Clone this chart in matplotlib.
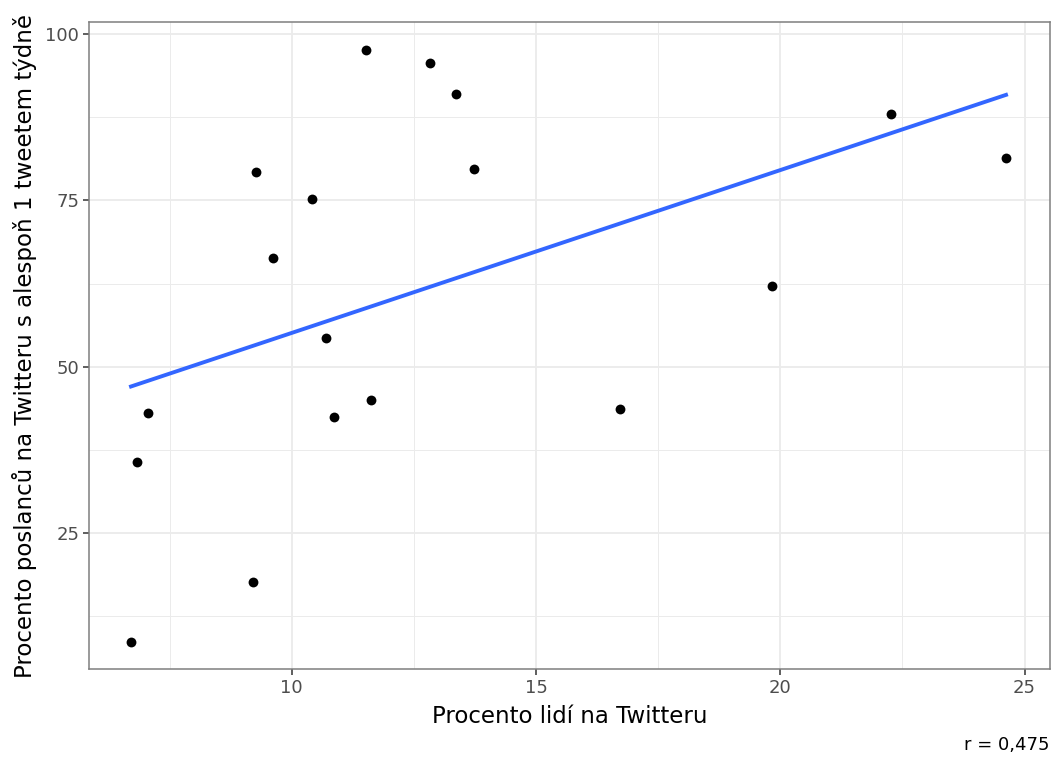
import numpy as np
import matplotlib
matplotlib.use("Agg")
import matplotlib.pyplot as plt
from matplotlib.ticker import MultipleLocator

# data
pct_twitter = [6.71, 6.83, 7.06, 9.20, 9.26, 9.61, 10.41, 10.70, 10.86,
               11.51, 11.62, 12.82, 13.37, 13.74, 16.71, 19.82, 22.27, 24.62]
pct_mps_weekly = [8.7, 35.7, 43.1, 17.6, 79.2, 66.4, 75.2, 54.4, 42.5,
                  97.6, 45.0, 95.6, 91.0, 79.7, 43.7, 62.2, 88.0, 81.3]
x_ticks = [10, 15, 20, 25]
y_ticks = [25, 50, 75, 100]
caption = "r = 0,475"

x = np.array(pct_twitter)
y = np.array(pct_mps_weekly)

plt.rcParams["font.family"] = "DejaVu Sans"

fig = plt.figure(figsize=(10.56, 7.58), dpi=100)
ax = fig.add_axes([89 / 1056, 1 - 669 / 758, (1050 - 89) / 1056, (669 - 22) / 758])

# linear fit like geom_smooth(method = "lm", se = FALSE)
slope, intercept = np.polyfit(x, y, 1)
xs = np.array([x.min(), x.max()])
ax.plot(xs, slope * xs + intercept, color="#3366FF", lw=2.8, zorder=2)
ax.scatter(x, y, s=50, color="black", zorder=3, linewidths=0)

ax.set_xlim(5.85, 25.52)
ax.set_ylim(4.6, 101.8)
ax.xaxis.set_major_locator(plt.FixedLocator(x_ticks))
ax.yaxis.set_major_locator(plt.FixedLocator(y_ticks))
ax.xaxis.set_minor_locator(MultipleLocator(2.5))
ax.yaxis.set_minor_locator(MultipleLocator(12.5))

ax.grid(which="major", color="#EBEBEB", lw=1.3)
ax.grid(which="minor", color="#EBEBEB", lw=0.7)
ax.set_axisbelow(True)
for s in ax.spines.values():
    s.set_color("#7F7F7F")
    s.set_linewidth(1.1)

ax.tick_params(which="major", length=4, width=1.1, color="#333333",
               labelsize=13, labelcolor="#4D4D4D", pad=3)
ax.tick_params(which="minor", length=0)

ax.set_xlabel("Procento lidí na Twitteru", fontsize=16.5, labelpad=6)
ax.set_ylabel("Procento poslanců na Twitteru s alespoň 1 tweetem týdně",
              fontsize=16.5, labelpad=6)
fig.text(1050 / 1056, 1 - 745 / 758, caption, ha="right", va="center", fontsize=13)

fig.savefig("out.png", dpi=100)
